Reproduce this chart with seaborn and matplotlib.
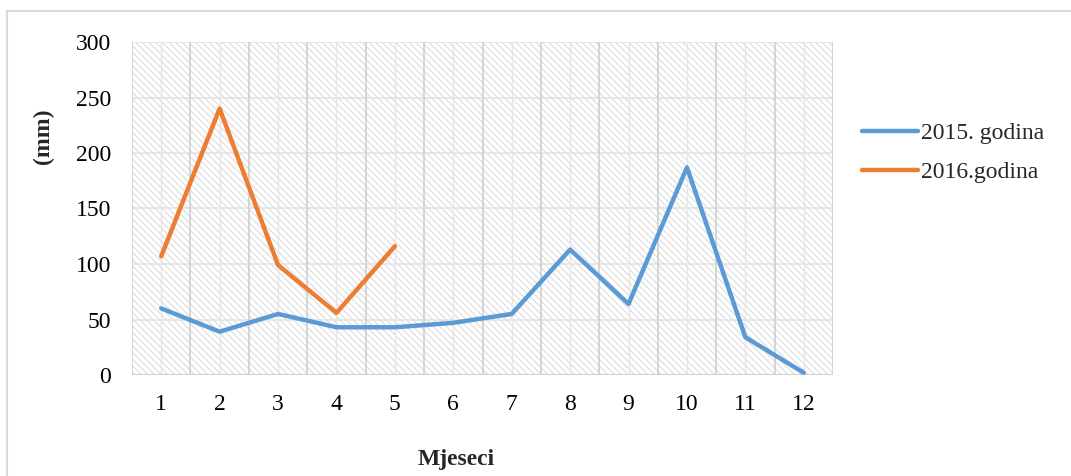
import numpy as np
import pandas as pd
import matplotlib
matplotlib.use("Agg")
import matplotlib.pyplot as plt
import seaborn as sns
from matplotlib.patches import Rectangle
from matplotlib.lines import Line2D

# Datos (lectura aproximada del gráfico)
mjeseci = [1, 2, 3, 4, 5, 6, 7, 8, 9, 10, 11, 12]
god_2015 = [60, 39, 55, 43, 43, 47, 55, 113, 64, 187, 34, 2]
mjeseci_2016 = [1, 2, 3, 4, 5]
god_2016 = [107, 240, 99, 56, 116]
y_ticks = [0, 50, 100, 150, 200, 250, 300]

df = pd.concat([
    pd.DataFrame({'mjesec': mjeseci, 'mm': god_2015, 'serija': '2015. godina'}),
    pd.DataFrame({'mjesec': mjeseci_2016, 'mm': god_2016, 'serija': '2016.godina'}),
])

sns.set_theme(style="white")
plt.rcParams['font.family'] = ['Liberation Serif', 'DejaVu Serif']
plt.rcParams['hatch.color'] = '#dcdcdc'
plt.rcParams['hatch.linewidth'] = 0.8

fig = plt.figure(figsize=(10.71, 4.76), dpi=100)
ax = fig.add_axes([132 / 1071, 1 - 375 / 476, 701 / 1071, 333 / 476])

# Pozadina s kosim šrafurama
ax.add_patch(Rectangle((0, 0), 1, 1, transform=ax.transAxes, facecolor='white',
                       edgecolor='#dcdcdc', hatch='\\\\\\\\\\', lw=0, zorder=0))

# Mreža
for y in y_ticks[1:]:
    ax.axhline(y, color='#e3e3e3', lw=1.2, zorder=1)
for x in np.arange(0.5, 13, 1):
    ax.axvline(x, color='#cfcfcf', lw=1.2, zorder=1)
for x in mjeseci:
    ax.axvline(x, color='#e6e6e6', lw=1.0, zorder=1)
ax.axhline(0, color='#d0d0d0', lw=1.5, zorder=2)

sns.lineplot(data=df, x='mjesec', y='mm', hue='serija',
             palette=['#5b9bd5', '#ed7d31'], linewidth=3.2, ax=ax, zorder=3)

ax.set_xlim(0.5, 12.5)
ax.set_ylim(0, 300)
ax.set_xticks(mjeseci)
ax.set_yticks(y_ticks)
ax.tick_params(axis='both', labelsize=17, length=0, colors='black')
ax.tick_params(axis='x', pad=14)
ax.tick_params(axis='y', pad=15)
for s in ax.spines.values():
    s.set_visible(False)
ax.set_xlabel('')
ax.set_ylabel('')

fig.text(43 / 1071, 1 - 136 / 476, '(mm)', rotation=90, ha='center', va='center',
         fontsize=17, fontweight='bold')
fig.text(456 / 1071, 1 - 460 / 476, 'Mjeseci', ha='center', va='center',
         fontsize=17, fontweight='bold')

ax.legend(loc='upper left', bbox_to_anchor=(841 / 1071, 1 - 101 / 476),
          bbox_transform=fig.transFigure, frameon=False, fontsize=17,
          handlelength=2.35, handletextpad=0.15, labelspacing=0.75)

# Okvir grafikona
fig.add_artist(Line2D([7 / 1071, 7 / 1071], [0, 1 - 11 / 476], transform=fig.transFigure,
                      color='#d9d9d9', lw=1.5))
fig.add_artist(Line2D([7 / 1071, 1], [1 - 11 / 476, 1 - 11 / 476], transform=fig.transFigure,
                      color='#d9d9d9', lw=1.5))

fig.savefig('out.png', dpi=100)
